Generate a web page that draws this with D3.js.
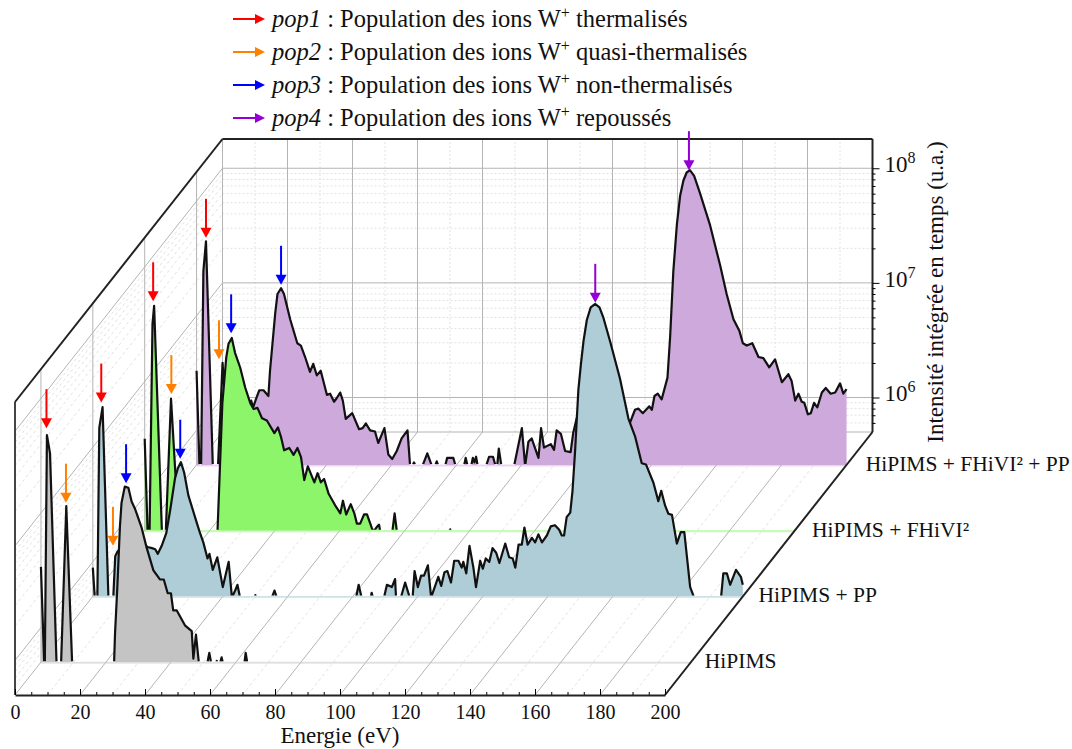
<!DOCTYPE html>
<html>
<head>
<meta charset="utf-8">
<script src="https://cdn.jsdelivr.net/npm/d3@7"></script>
<style>
html, body { margin: 0; padding: 0; background: #fff; }
text { font-family: "Liberation Serif", serif; fill: #111; }
</style>
</head>
<body>
<div id="main"></div>
<script>
// spectra: [energy eV, log10 of intensity]. 5.69 = below the axis floor
var hipims = [[0,6.53],[1,5.69],[1.2,5.69],[1.85,7.68],[2.8,7.52],[4.8,5.69],[6.2,5.69],[7.8,7.06],[9.6,5.69],
    [22.5,5.69],[22.8,5.95],[23.5,6.35],[24.3,6.88],[24.8,7.09],[25.8,7.23],[26.9,7.22],[27.9,7.10],[28.9,7.04],
    [31,6.87],[32.5,6.70],[34.6,6.50],[36.6,6.42],[37.8,6.42],[39,6.30],[40,6.30],[40.7,6.15],[41.8,6.15],
    [44.3,6.02],[46.4,5.97],[46.9,5.73],[47.7,5.94],[48.6,5.69],[51.2,5.69],[51.8,5.78],[52.4,5.69],
    [54,5.69],[54.1,5.71],[54.3,5.69],[55.1,5.69],[55.6,5.74],[56,5.69],[62.6,5.69],[63,5.78],[63.5,5.69],[200,5.69]];

var hipimsPP = [[0,5.95],[0.6,5.69],[1.4,5.69],[2,7.17],[3,7.35],[4.8,5.69],[6.3,5.69],[6.9,6.05],[7.6,6.09],[8,6.1],
    [10,5.95],[13,6.05],[16.4,6.14],[16.8,6.13],[18.2,6.12],[19.2,6.11],[20,6.07],[21.2,6.14],[22.6,6.25],[23.8,6.45],
    [25.3,6.73],[26.2,6.82],[27.1,6.87],[28.1,6.78],[29.4,6.58],[32,6.34],[33,6.25],[34,6.17],[35.3,6.03],[35.9,6.07],
    [36.9,5.93],[38.3,6.04],[40,5.78],[41.8,6.00],[42.8,5.69],[43.8,5.75],[44.5,5.80],[45.3,5.69],
    [49.9,5.69],[50,5.71],[50.1,5.69],[55.1,5.69],[55.9,5.75],[56.6,5.69],[81,5.69],[81.8,5.80],[82.7,5.69],
    [85.5,5.69],[85.8,5.73],[86.2,5.69],[89.6,5.69],[90.5,5.80],[92,5.78],[93,5.85],[93.3,5.69],[94.8,5.69],[96.1,5.82],
    [97.5,5.69],[98.4,5.69],[99,5.92],[100,5.78],[101,5.88],[101.9,5.88],[103.1,5.97],[104.1,5.69],[106.3,5.87],[107.2,5.79],
    [108.2,5.91],[109.1,5.92],[110.2,5.82],[111.2,6.01],[112.5,6.01],[113.5,5.95],[114,6.00],[114.9,5.90],[115.9,6.14],
    [117.1,5.95],[117.9,5.78],[119.2,6.01],[120,5.94],[120.9,6.03],[122,6.00],[123,6.12],[124.1,6.08],[125.1,5.99],
    [126.9,6.16],[128.1,6.04],[129.2,6.03],[130,5.95],[131,6.15],[132,6.15],[132.8,6.30],[133.8,6.15],[135.1,6.21],
    [136.1,6.17],[137.1,6.24],[138.2,6.17],[139.7,6.23],[140.9,6.31],[142.2,6.32],[143.5,6.28],[144.3,6.23],[145,6.23],
    [145.8,6.39],[146.9,6.43],[147.6,6.62],[148.4,6.97],[149.4,7.50],[150.2,7.73],[151,7.93],[152,8.11],[153.2,8.22],
    [154.6,8.25],[155.9,8.22],[157.1,8.13],[159.2,7.92],[162.2,7.60],[164.8,7.25],[166.9,7.09],[168.9,6.86],[170.2,6.85],
    [172.5,6.69],[174,6.53],[174.9,6.62],[176.1,6.49],[177.1,6.42],[178.2,6.41],[179.7,6.16],[180.9,6.26],[182,6.26],
    [183.8,5.78],[185,5.69],[193.3,5.69],[194,5.90],[195.1,5.90],[196.1,5.80],[197.9,5.93],[199.4,5.87],[200,5.80]];

var hipimsFhivi = [[0,6.50],[0.9,5.69],[1.5,5.69],[2.4,7.50],[2.9,7.66],[5.3,5.69],[6.5,5.69],[8.1,6.85],[10.5,5.69],
    [22.4,5.69],[23.9,6.81],[25.1,7.21],[25.8,7.33],[26.8,7.38],[27.8,7.25],[29.4,7.12],[30.9,6.95],[32.5,6.81],
    [33.5,6.76],[34.7,6.77],[36.1,6.68],[37.6,6.66],[39.9,6.55],[41,6.60],[42,6.51],[42.9,6.40],[44.5,6.42],[45.8,6.36],
    [47,6.42],[48.1,6.34],[49.1,6.14],[50.2,6.26],[52.2,6.12],[53.2,6.20],[54.2,6.12],[55.2,6.15],[56.6,6.02],[58.6,5.92],
    [60.2,5.85],[61,5.96],[62,5.84],[63.4,5.93],[64.5,5.85],[65.3,5.76],[66.3,5.76],[67.5,5.84],[68.4,5.84],[69.9,5.72],
    [70.4,5.69],[71.4,5.73],[72.1,5.75],[72.5,5.69],[76.2,5.69],[76.9,5.85],[77.6,5.69],[93.7,5.69],[94,5.71],[94.3,5.69],[200,5.69]];

var hipimsFhiviPP = [[0,6.52],[0.9,5.69],[1.4,5.69],[2.1,7.39],[2.9,7.65],[5,5.69],[6.6,5.69],[8,6.59],[10,5.69],[13.5,6.0],
    [16.8,6.26],[17.4,6.20],[18.5,6.29],[19.3,6.35],[20.6,6.35],[22.1,6.30],[22.6,6.52],[24.2,7.02],[24.9,7.19],[26,7.24],
    [26.9,7.19],[28.8,6.97],[31,6.76],[32.1,6.74],[33.4,6.64],[34.9,6.51],[35.9,6.58],[37,6.48],[38.2,6.52],[40.1,6.31],
    [41.1,6.32],[42.3,6.25],[43.1,6.28],[44.2,6.33],[45,6.26],[45.9,6.10],[47.9,6.15],[50,6.01],[51.1,6.02],[52.1,6.06],
    [53.4,6.00],[54.9,5.99],[55.9,5.89],[57.8,6.02],[59,5.79],[60.2,5.75],[61.6,5.82],[63.1,5.93],[64.9,6.00],[65.7,5.69],
    [66.4,5.69],[66.9,5.72],[67.4,5.69],[69.5,5.69],[71,5.80],[72.4,5.69],[73.4,5.69],[73.9,5.73],[74.4,5.69],[76.5,5.69],
    [77.1,5.76],[79,5.76],[79.7,5.69],[82.3,5.69],[82.8,5.76],[83.4,5.69],[84.5,5.69],[85,5.76],[85.5,5.72],[86,5.77],
    [86.5,5.69],[89.1,5.69],[90,5.77],[91.2,5.77],[92,5.69],[92.5,5.69],[93,5.84],[93.8,5.69],[97.7,5.69],[100.1,6.02],
    [101.1,5.69],[102.1,5.90],[103.1,5.93],[105.2,5.76],[106,6.02],[106.9,5.85],[109,5.88],[110,5.83],[110.8,6.00],
    [112.1,5.97],[113.4,5.82],[115.1,5.81],[115.9,5.98],[117,6.11],[120,6.15],[128,6.1],[133.4,6.07],[134.9,6.18],
    [135.9,6.19],[137.3,6.15],[139.3,6.21],[140.1,6.18],[140.9,6.30],[141.9,6.32],[143.1,6.27],[144.9,6.46],[145.7,6.81],
    [146.7,7.39],[147.8,7.80],[148.8,8.05],[149.8,8.18],[150.8,8.25],[151.8,8.27],[153.1,8.22],[154.9,8.07],[158,7.79],
    [161.1,7.44],[163.1,7.19],[165.2,6.97],[167,6.87],[168.1,6.76],[169.3,6.74],[171,6.76],[172.9,6.64],[174.4,6.63],
    [176.2,6.55],[178,6.62],[180.1,6.42],[182.1,6.49],[183.1,6.43],[184.2,6.26],[185.2,6.32],[186.2,6.25],[187,6.24],
    [188.1,6.14],[189,6.15],[190,6.24],[191,6.20],[192.4,6.33],[193.6,6.37],[195.1,6.32],[196.5,6.33],[198,6.41],[199,6.32],[200,6.36]];

var seriesNames = ["HiPIMS", "HiPIMS + PP", "HiPIMS + FHiVI²", "HiPIMS + FHiVI² + PP"];
var seriesData = [hipims, hipimsPP, hipimsFhivi, hipimsFhiviPP];
var seriesColors = ["#c4c4c4", "#aecdd6", "#8cf56a", "#cda9dc"];
var seriesDepth = [0.125, 0.375, 0.625, 0.875];

var popNames = ["pop1", "pop2", "pop3", "pop4"];
var popTexts = ["thermalisés", "quasi-thermalisés", "non-thermalisés", "repoussés"];
var popColors = ["#ff0000", "#ff8000", "#0000ff", "#9400d3"];

// arrows: [population, series index, energy, log10 of the arrow tip]
var arrows = [
    [0,0,1.7,7.74],[0,1,2.6,7.39],[0,2,2.6,7.70],[0,3,2.9,7.68],
    [1,0,7.7,7.09],[1,1,6.2,6.14],[1,2,8.2,6.89],[1,3,6.9,6.62],
    [2,0,26.2,7.26],[2,1,26.9,6.90],[2,2,26.6,7.42],[2,3,26,7.27],
    [3,1,154.6,8.26],[3,3,151.5,8.27]
];

var majorE = d3.range(0, 201, 20);
var minorE = d3.range(0, 201, 5);
var gridMinorE = d3.range(10, 200, 20);
var decades = [1e6, 1e7, 1e8];
var minorI = [6e5,7e5,8e5,9e5,2e6,3e6,4e6,5e6,6e6,7e6,8e6,9e6,2e7,3e7,4e7,5e7,6e7,7e7,8e7,9e7];

var width = 1072, height = 749;
var frontBottom = 695, plotH = 293, depthX = 207.5, depthY = 263;

var x = d3.scaleLinear().domain([0, 200]).range([15, 665]);
var h = d3.scaleLog().domain([5e5, 1.8e8]).range([0, plotH]);
var z = d3.scaleLinear().domain([0, 1]).range([0, 1]);

function px(e, d) { return x(e) + z(d) * depthX; }
function py(i, d) { return frontBottom - (i == null ? 0 : h(i)) - z(d) * depthY; }

var svg = d3.select("#main").append("svg")
    .attr("width", width)
    .attr("height", height)
    .style("display", "block");

function seg(g, x1, y1, x2, y2, color, w, dash) {
    g.append("line").attr("x1", x1).attr("y1", y1).attr("x2", x2).attr("y2", y2)
        .attr("stroke", color).attr("stroke-width", w)
        .attr("stroke-dasharray", dash || null);
}

// walls and floor
var grid = svg.append("g").attr("id", "grid");
var minorCol = "#e2e2e2", majorCol = "#b4b4b4";

gridMinorE.forEach(function (e) {
    seg(grid, px(e, 1), py(null, 1), px(e, 1), py(null, 1) - plotH, minorCol, 1, "2,2");
    seg(grid, px(e, 0), py(null, 0), px(e, 1), py(null, 1), minorCol, 1, "3,3");
});
minorI.forEach(function (i) {
    seg(grid, px(0, 1), py(i, 1), px(200, 1), py(i, 1), minorCol, 1, "2,2");
    seg(grid, px(0, 0), py(i, 0), px(0, 1), py(i, 1), minorCol, 1, "3,3");
});
majorE.forEach(function (e) {
    seg(grid, px(e, 1), py(null, 1), px(e, 1), py(null, 1) - plotH, majorCol, 1);
    seg(grid, px(e, 0), py(null, 0), px(e, 1), py(null, 1), majorCol, 1);
});
decades.forEach(function (i) {
    seg(grid, px(0, 1), py(i, 1), px(200, 1), py(i, 1), majorCol, 1);
    seg(grid, px(0, 0), py(i, 0), px(0, 1), py(i, 1), majorCol, 1);
});
seg(grid, px(0, 1), py(null, 1), px(200, 1), py(null, 1), majorCol, 1);
seriesDepth.forEach(function (d) {
    seg(grid, px(0, d), py(null, d), px(0, d), py(null, d) - plotH, majorCol, 1);
});

// spectra, back to front
var defs = svg.append("defs");
var plot = svg.append("g").attr("id", "spectra");

d3.range(seriesData.length - 1, -1, -1).forEach(function (s) {
    var d = seriesDepth[s];
    var base = py(null, d);
    var gs = plot.append("g");

    defs.append("clipPath").attr("id", "clipArea" + s).append("rect")
        .attr("x", 0).attr("y", 0).attr("width", width).attr("height", base);
    defs.append("clipPath").attr("id", "clipLine" + s).append("rect")
        .attr("x", 0).attr("y", 0).attr("width", width).attr("height", base - 1);

    // pale strip the fill leaves along the floor
    gs.append("line")
        .attr("x1", px(0, d)).attr("x2", px(200, d))
        .attr("y1", base + 0.5).attr("y2", base + 0.5)
        .attr("stroke", seriesColors[s]).attr("stroke-width", 2).attr("stroke-opacity", 0.45);

    var area = d3.area()
        .x(function (p) { return px(p[0], d); })
        .y0(base)
        .y1(function (p) { return py(Math.pow(10, p[1]), d); });
    var line = d3.line()
        .x(function (p) { return px(p[0], d); })
        .y(function (p) { return py(Math.pow(10, p[1]), d); });

    gs.append("path").datum(seriesData[s])
        .attr("d", area)
        .attr("fill", seriesColors[s])
        .attr("clip-path", "url(#clipArea" + s + ")");
    gs.append("path").datum(seriesData[s])
        .attr("d", line)
        .attr("fill", "none")
        .attr("stroke", "#111")
        .attr("stroke-width", 2.2)
        .attr("stroke-linejoin", "round")
        .attr("clip-path", "url(#clipLine" + s + ")");
});

// frame
var frame = svg.append("g").attr("id", "frame");
var frameCol = "#222";
seg(frame, px(0, 0), py(null, 0) - plotH, px(0, 0), py(null, 0), "#444", 2);
seg(frame, px(0, 0), py(null, 0) - plotH, px(0, 1), py(null, 1) - plotH, frameCol, 2);
seg(frame, px(0, 1), py(null, 1) - plotH, px(200, 1), py(null, 1) - plotH, frameCol, 2);
seg(frame, px(200, 1), py(null, 1) - plotH, px(200, 1), py(null, 1), frameCol, 2);
seg(frame, px(200, 0), py(null, 0), px(200, 1), py(null, 1), frameCol, 2);

// x axis on the front edge
var xMinor = d3.axisBottom(x).tickValues(minorE).tickSizeInner(-3).tickSizeOuter(0).tickFormat("");
var xMajor = d3.axisBottom(x).tickValues(majorE).tickSizeInner(-6).tickSizeOuter(0).tickPadding(10);
svg.append("g").attr("transform", "translate(0," + frontBottom + ")").call(xMinor)
    .call(function (g) { g.select(".domain").remove(); });
var xg = svg.append("g").attr("transform", "translate(0," + frontBottom + ")").call(xMajor);
xg.select(".domain").attr("stroke", "#222").attr("stroke-width", 2);
xg.selectAll("text").attr("font-size", 20).attr("font-family", "Liberation Serif").attr("fill", "#111");
svg.append("text").attr("x", 340).attr("y", 743).attr("text-anchor", "middle")
    .attr("font-size", 23).text("Energie (eV)");

// intensity axis on the back wall
var yBack = h.copy().range([py(null, 1), py(null, 1) - plotH]);
var yMinor = d3.axisRight(yBack).tickValues(minorI).tickSizeInner(3).tickSizeOuter(0).tickFormat("");
var yMajor = d3.axisRight(yBack).tickValues(decades).tickSizeInner(7).tickSizeOuter(0).tickPadding(5);
svg.append("g").attr("transform", "translate(" + px(200, 1) + ",0)").call(yMinor)
    .call(function (g) { g.select(".domain").remove(); });
var yg = svg.append("g").attr("transform", "translate(" + px(200, 1) + ",0)").call(yMajor);
yg.select(".domain").remove();
yg.selectAll("text").each(function (d) {
    var t = d3.select(this).text("").attr("font-family", "Liberation Serif").attr("fill", "#111").attr("dy", "0.32em");
    t.append("tspan").attr("font-size", 23).text("10");
    t.append("tspan").attr("font-size", 16).attr("dy", -9).text(Math.round(Math.log10(d)));
});
svg.append("text")
    .attr("transform", "translate(943,292) rotate(-90)")
    .attr("text-anchor", "middle").attr("font-size", 23)
    .text("Intensité intégrée en temps (u.a.)");

// series names at the end of each floor line
seriesNames.forEach(function (n, s) {
    var d = seriesDepth[s];
    svg.append("text")
        .attr("x", px(200, d) + 13 + 7 * d)
        .attr("y", py(null, d) + 6)
        .attr("font-size", 21.5)
        .text(n);
});

// arrows
function arrowDown(g, ax, tip, color) {
    seg(g, ax, tip - 39, ax, tip - 8, color, 2);
    g.append("path").attr("d", d3.line()([[ax - 5.5, tip - 10], [ax + 5.5, tip - 10], [ax, tip]])).attr("fill", color);
}
var ag = svg.append("g").attr("id", "arrows");
arrows.forEach(function (a) {
    arrowDown(ag, px(a[2], seriesDepth[a[1]]), py(Math.pow(10, a[3]), seriesDepth[a[1]]), popColors[a[0]]);
});

// legend
var legendY = d3.scalePoint().domain(popNames).range([27, 126]);
popNames.forEach(function (n, i) {
    var y = legendY(n);
    var g = svg.append("g");
    seg(g, 233, y - 8, 258, y - 8, popColors[i], 2);
    g.append("path").attr("d", d3.line()([[255, y - 13], [265, y - 8], [255, y - 3]])).attr("fill", popColors[i]);
    var t = g.append("text").attr("x", 272).attr("y", y).attr("font-size", 24.5);
    t.append("tspan").attr("font-style", "italic").text(n);
    t.append("tspan").text(" : Population des ions W");
    t.append("tspan").attr("font-size", 16).attr("dy", -9).text("+");
    t.append("tspan").attr("dy", 9).text(" " + popTexts[i]);
});
</script>
</body>
</html>
